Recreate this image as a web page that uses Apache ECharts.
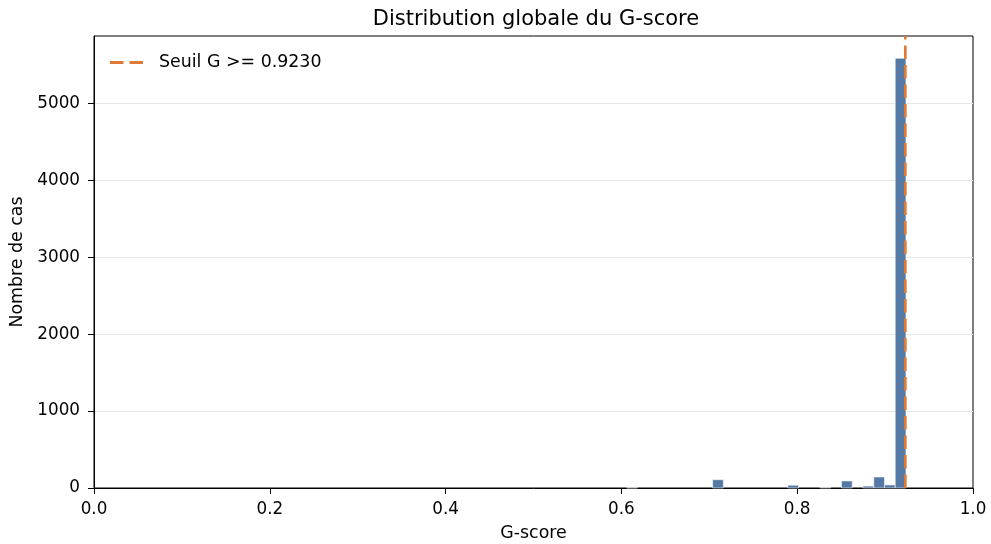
<!DOCTYPE html>
<html>
<head>
<meta charset="utf-8">
<script src="https://cdn.jsdelivr.net/npm/echarts@6/dist/echarts.min.js"></script>
<style>html,body{margin:0;padding:0;background:#fff}#c{width:991px;height:544px}</style>
</head>
<body>
<div id="c"></div>
<script>
// Histogram bins (left edges of non-empty bins) and counts
const binLeft = [0.6060, 0.7038, 0.7893, 0.8260, 0.8504, 0.8748, 0.8871, 0.8993, 0.9115];
const binWidth = 0.01222;
const counts = [4, 108, 36, 6, 92, 25, 143, 40, 5590];
const threshold = 0.9230;
const xTicks = [0.0, 0.2, 0.4, 0.6, 0.8, 1.0];
const yTicks = [0, 1000, 2000, 3000, 4000, 5000];

const chart = echarts.init(document.getElementById('c'), null, {renderer: 'canvas'});
const font = 'DejaVu Sans';
const histData = binLeft.map((x, i) => [x, x + binWidth, counts[i]]);

chart.setOption({
  animation: false,
  backgroundColor: '#fff',
  title: {
    text: 'Distribution globale du G-score',
    left: 531, top: 4, textAlign: 'center',
    textStyle: {fontFamily: font, fontSize: 21, fontWeight: 'normal', color: '#000'}
  },
  legend: {
    left: 105, top: 49,
    itemWidth: 33, itemHeight: 3, itemGap: 10,
    data: [{name: 'Seuil G >= 0.9230', icon: 'path://M0,0 L13.5,0 L13.5,3 L0,3 Z M19.5,0 L33,0 L33,3 L19.5,3 Z'}],
    textStyle: {fontFamily: font, fontSize: 17.4, color: '#000', padding: [0, 0, 0, 11]}
  },
  grid: {left: 94, right: 18, top: 36, bottom: 56, show: true, borderColor: '#000', borderWidth: 1,
    backgroundColor: 'transparent', containLabel: false, outerBoundsMode: 'none'},
  xAxis: {
    type: 'value', min: 0, max: 1, interval: 0.2,
    name: 'G-score', nameLocation: 'middle', nameGap: 37,
    nameTextStyle: {fontFamily: font, fontSize: 17.4, color: '#000'},
    axisLine: {show: true, lineStyle: {color: '#000', width: 1}},
    axisTick: {show: true, inside: false, length: 6, lineStyle: {color: '#000'}},
    axisLabel: {fontFamily: font, fontSize: 16.8, color: '#000', margin: 13,
      formatter: v => xTicks.some(t => Math.abs(t - v) < 1e-9) ? v.toFixed(1) : ''},
    splitLine: {show: false}
  },
  yAxis: {
    type: 'value', min: 0, max: 5880, interval: 1000,
    name: 'Nombre de cas', nameLocation: 'middle', nameGap: 60,
    nameTextStyle: {fontFamily: font, fontSize: 17.4, color: '#000'},
    axisLine: {show: true, lineStyle: {color: '#000', width: 1}},
    axisTick: {show: true, inside: false, length: 6, lineStyle: {color: '#000'}, customValues: yTicks},
    axisLabel: {fontFamily: font, fontSize: 16.8, color: '#000', margin: 14, customValues: yTicks,
      formatter: v => String(v)},
    splitLine: {show: true, lineStyle: {color: '#e6e6e6', width: 1}}
  },
  series: [
    {
      name: 'hist',
      type: 'custom',
      data: histData,
      encode: {x: [0, 1], y: 2},
      renderItem: function (params, api) {
        const p0 = api.coord([api.value(0), 0]);
        const p1 = api.coord([api.value(1), api.value(2)]);
        return {
          type: 'rect',
          shape: {x: p0[0], y: p1[1], width: p1[0] - p0[0], height: p0[1] - p1[1]},
          style: {fill: '#4c72a0', stroke: '#ffffff', lineWidth: 0.6, opacity: 0.95}
        };
      },
      z: 2
    },
    {
      name: 'Seuil G >= 0.9230',
      type: 'line',
      data: [[threshold, 0], [threshold, 5880]],
      symbol: 'none',
      color: '#dd7a35',
      lineStyle: {color: '#dd7a35', width: 2.7, type: [13.5, 6]},
      itemStyle: {color: '#dd7a35'},
      z: 3
    }
  ]
});
</script>
</body>
</html>
